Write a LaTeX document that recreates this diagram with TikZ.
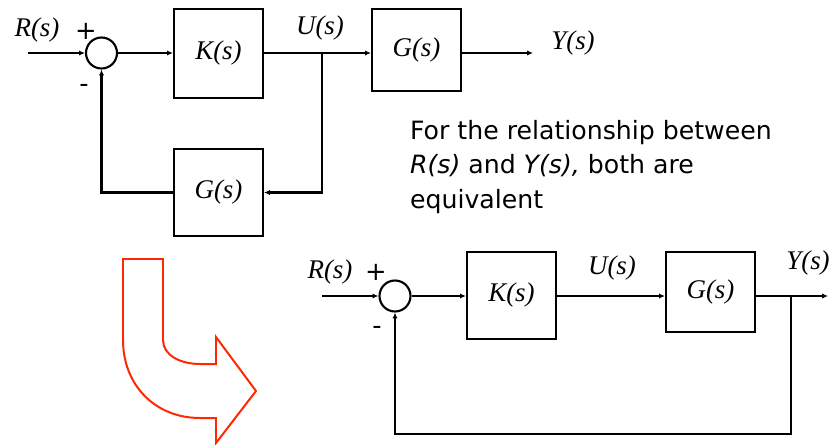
\documentclass[tikz,border=0pt]{standalone}
\usepackage{fontspec}
\setmainfont{Liberation Serif}
\newfontfamily\notefont{DejaVu Sans}
\usetikzlibrary{arrows.meta,positioning,calc}
\definecolor{arrowred}{RGB}{255,40,0}

\begin{document}
\begin{tikzpicture}[
  x=0.03cm,y=-0.03cm,
  line width=1.8pt,
  >={Latex[length=5pt,width=4.5pt]},
  block/.style={draw,minimum width=2.67cm,minimum height=2.67cm,inner sep=0pt,
    font=\fontsize{23}{26}\selectfont\itshape},
  sum/.style={draw,circle,minimum size=0.93cm,inner sep=0pt},
  sig/.style={font=\fontsize{23}{26}\selectfont\itshape,inner sep=0pt},
  sign/.style={font=\notefont\fontsize{22}{24}\selectfont,inner sep=0pt},
  bigarrow/.style={draw=arrowred,line width=1.7pt,line join=miter}
]
\useasboundingbox (0,0) rectangle (831,445);

% original loop
\node[sum] (s1) at (101.5,53) {};
\node[block] (k1) at (218.5,53.5) {K(s)};
\node[block,minimum height=2.46cm] (g1) at (416.5,50) {G(s)};
\node[block,minimum height=2.61cm] (h1) at (218.5,192.5) {G(s)};
\coordinate (r1) at (28,53);
\coordinate (b1) at (322,53);
\coordinate (y1) at (533,53);

\node[sig] (rlab1) at (37,30) {R(s)};
\node[sign] (plus1) at (86,31) {+};
\node[sign] (minus1) at (84,88) {-};
\node[sig] (ulab1) at (320,28) {U(s)};
\node[sig] (ylab1) at (573,43) {Y(s)};

\draw[->] (r1) -- (s1);
\draw[->] (s1) -- (k1.west |- s1);
\draw[->] (k1.east |- s1) -- (g1.west |- s1);
\draw[->] (g1.east |- s1) -- (y1);
\draw[->] (b1) |- (h1.east);
\draw[->] (h1.west) -| (s1.south);

% note
\node[anchor=north west,align=left,inner sep=0pt,
  font=\notefont\fontsize{21.5}{29.5}\selectfont] (note) at (409,119)
  {For the relationship between\\ \textit{R(s)} and \textit{Y(s),} both are\\ equivalent};

% big bent arrow
\draw[bigarrow] (123,259) -- (163,259) -- (163,340)
  .. controls (163,355) and (180,364) .. (200,364) -- (216,364) -- (216,337)
  -- (256,391) -- (216,443) -- (216,418) -- (200,418)
  .. controls (155,418) and (123,385) .. (123,340) -- cycle;

% equivalent loop
\node[sum] (s2) at (395,296) {};
\node[block,minimum height=2.61cm] (k2) at (511.5,295.5) {K(s)};
\node[block,minimum height=2.4cm] (g2) at (710.5,292) {G(s)};
\coordinate (r2) at (322,296);
\coordinate (b2) at (791,296);
\coordinate (y2) at (828,296);
\coordinate (c2) at (791,434);

\node[sig] (rlab2) at (330,272) {R(s)};
\node[sign] (plus2) at (376,272) {+};
\node[sign] (minus2) at (377,330) {-};
\node[sig] (ulab2) at (612,268) {U(s)};
\node[sig] (ylab2) at (808,263) {Y(s)};

\draw[->] (r2) -- (s2);
\draw[->] (s2) -- (k2.west |- s2);
\draw[->] (k2.east |- s2) -- (g2.west |- s2);
\draw[->] (g2.east |- s2) -- (y2);
\draw[->] (b2) -- (c2) -| (s2.south);
\end{tikzpicture}
\end{document}
